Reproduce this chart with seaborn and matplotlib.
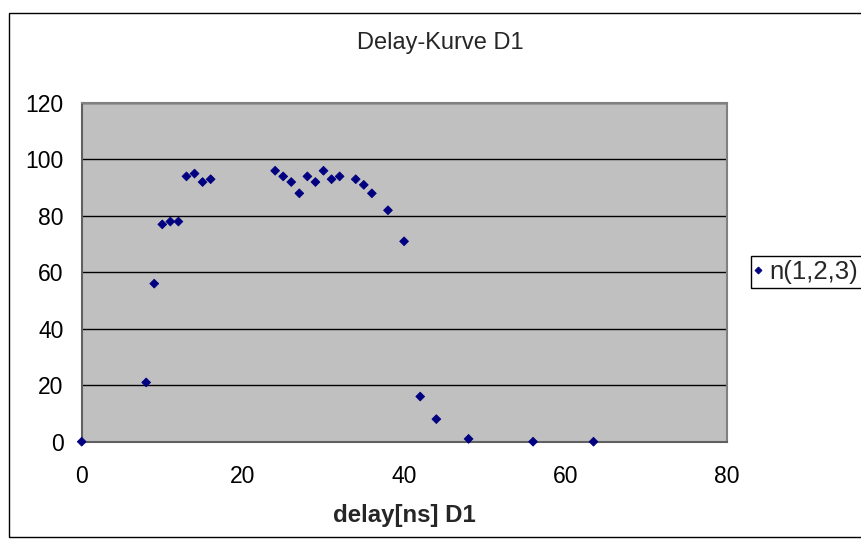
import matplotlib
matplotlib.use("Agg")
import matplotlib.pyplot as plt
import seaborn as sns
import pandas as pd
from matplotlib.patches import Rectangle

# ---- data ----
delay_ns = [0, 8, 9, 10, 11, 12, 13, 14, 15, 16, 24, 25, 26, 27, 28, 29, 30,
            31, 32, 34, 35, 36, 38, 40, 42, 44, 48, 56, 63.5]
counts = [0, 21, 56, 77, 78, 78, 94, 95, 92, 93, 96, 94, 92, 88, 94, 92, 96,
          93, 94, 93, 91, 88, 82, 71, 16, 8, 1, 0, 0]
series_label = "n(1,2,3)"
x_ticks = [0, 20, 40, 60, 80]
y_ticks = [0, 20, 40, 60, 80, 100, 120]
title_text = "Delay-Kurve D1"
xlabel_text = "delay[ns] D1"

sns.set_style("white")
plt.rcParams["font.family"] = ["Liberation Sans", "DejaVu Sans"]

W, H = 861, 540
fig = plt.figure(figsize=(W / 100, H / 100), dpi=100)
L, R, T, B = 81.7, 726.5, 103.0, 441.7
ax = fig.add_axes([L / W, 1 - B / H, (R - L) / W, (B - T) / H])

df = pd.DataFrame({"delay": delay_ns, "n": counts, "series": series_label})
sns.scatterplot(data=df, x="delay", y="n", hue="series", palette=["#000080"],
                marker="D", s=20, edgecolor="#000080", linewidth=0.6,
                ax=ax, clip_on=False, zorder=5)

ax.set_facecolor("#C0C0C0")
ax.set_xlim(0, 80)
ax.set_ylim(0, 120)
ax.set_xticks(x_ticks)
ax.set_yticks(y_ticks)
ax.yaxis.grid(True, color="black", linewidth=1)
ax.xaxis.grid(False)
ax.set_axisbelow(True)
for s in ["top", "right"]:
    ax.spines[s].set_color("#808080")
    ax.spines[s].set_linewidth(1.5)
for s in ["left", "bottom"]:
    ax.spines[s].set_color("#606060")
    ax.spines[s].set_linewidth(1.5)
ax.tick_params(axis="both", direction="out", length=5, width=1, colors="black",
               labelsize=16.5)
ax.tick_params(axis="y", pad=8)
ax.tick_params(axis="x", pad=12)

ax.set_xlabel(xlabel_text, fontsize=17.3, fontweight="bold", labelpad=11)
ax.set_ylabel("")

fig.text(440 / W, 1 - 43 / H, title_text, ha="center", va="center", fontsize=17)

leg = ax.legend(loc="center left", bbox_to_anchor=(751 / W, 1 - 272 / H),
                bbox_transform=fig.transFigure, frameon=True, fancybox=False,
                edgecolor="black", fontsize=18.5, handletextpad=0.3,
                borderpad=0.15, borderaxespad=0, handlelength=0.25,
                markerscale=0.8, framealpha=1)
leg.get_frame().set_linewidth(1)

fig.patches.append(Rectangle((9 / W, 3 / H), 1.5, (H - 13 - 3) / H,
                             transform=fig.transFigure, fill=False,
                             edgecolor="black", linewidth=1))

fig.savefig("out.png", dpi=100)
